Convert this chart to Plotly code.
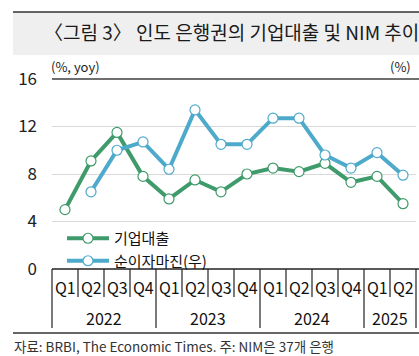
import plotly.graph_objects as go

# ---- data ----
years = ["2022", "2023", "2024", "2025"]
quarters = ["Q1", "Q2", "Q3", "Q4", "Q1", "Q2", "Q3", "Q4", "Q1", "Q2", "Q3", "Q4", "Q1", "Q2"]
year_quarter_counts = [4, 4, 4, 2]
corp_loans = [5.0, 9.1, 11.5, 7.8, 5.9, 7.5, 6.5, 8.0, 8.5, 8.2, 8.9, 7.3, 7.8, 5.5]
nim = [None, 6.5, 10.0, 10.7, 8.4, 13.4, 10.5, 10.5, 12.7, 12.7, 9.6, 8.5, 9.8, 7.9]
y_ticks = [0, 4, 8, 12, 16]

GREEN = "#3f9b6b"
BLUE = "#4eaacb"
FONT = "Noto Sans CJK KR"

W, H = 419, 356
PLOT_L, PLOT_R, PLOT_T, PLOT_B = 52, 416, 79, 269  # pixels
ML, MR, MT, MB = PLOT_L, W - PLOT_R, PLOT_T, H - PLOT_B
PW = PLOT_R - PLOT_L
PH = PLOT_B - PLOT_T


def fx(px):
    return (px - PLOT_L) / PW


def fy(py):
    return (PLOT_B - py) / PH


xs = list(range(len(quarters)))
n = len(quarters)

fig = go.Figure()
fig.add_trace(go.Scatter(
    x=xs, y=corp_loans, name="기업대출", mode="lines+markers",
    line=dict(color=GREEN, width=4),
    marker=dict(size=10, color="white", line=dict(color=GREEN, width=1.2)),
))
fig.add_trace(go.Scatter(
    x=xs, y=nim, name="순이자마진(우)", mode="lines+markers", yaxis="y2",
    line=dict(color=BLUE, width=4),
    marker=dict(size=10, color="white", line=dict(color=BLUE, width=1.2)),
))

shapes = []
# title bar
shapes.append(dict(type="rect", xref="paper", yref="paper", x0=fx(13), x1=fx(430),
                   y0=fy(55), y1=fy(12.5), fillcolor="#efefef", line=dict(width=0), layer="below"))
shapes.append(dict(type="line", xref="paper", yref="paper", x0=fx(13), x1=fx(430),
                   y0=fy(12), y1=fy(12), line=dict(color="#333333", width=1.5)))
# top (16) line darker
shapes.append(dict(type="line", xref="paper", yref="paper", x0=0, x1=fx(430),
                   y0=1, y1=1, line=dict(color="#6f6f6f", width=2)))
# zero / category table top
shapes.append(dict(type="line", xref="paper", yref="paper", x0=0, x1=fx(430),
                   y0=0, y1=0, line=dict(color="#222222", width=1.5)))
# quarter separators
for i in range(n + 1):
    shapes.append(dict(type="line", xref="paper", yref="paper", x0=i / n, x1=i / n,
                       y0=0, y1=fy(297), line=dict(color="#222222", width=1.2)))
# year separators
acc = 0
bounds = [0]
for c in year_quarter_counts:
    acc += c
    bounds.append(acc)
for b in bounds:
    shapes.append(dict(type="line", xref="paper", yref="paper", x0=b / n, x1=b / n,
                       y0=fy(297), y1=fy(328), line=dict(color="#222222", width=1.2)))
# bottom rule
shapes.append(dict(type="line", xref="paper", yref="paper", x0=fx(13), x1=fx(430),
                   y0=fy(333), y1=fy(333), line=dict(color="#333333", width=1.5)))

annotations = []
annotations.append(dict(text="〈그림 3〉 인도 은행권의 기업대출 및 NIM 추이", xref="paper", yref="paper",
                        x=fx(42), y=fy(31), xanchor="left", yanchor="middle", showarrow=False,
                        font=dict(family=FONT, size=19, color="#1a1a1a")))
annotations.append(dict(text="(%, yoy)", xref="paper", yref="paper", x=fx(49), y=fy(66),
                        xanchor="left", yanchor="middle", showarrow=False,
                        font=dict(family=FONT, size=13, color="#222222")))
annotations.append(dict(text="(%)", xref="paper", yref="paper", x=fx(413), y=fy(66),
                        xanchor="right", yanchor="middle", showarrow=False,
                        font=dict(family=FONT, size=13, color="#222222")))
for i, q in enumerate(quarters):
    annotations.append(dict(text=q, xref="paper", yref="paper", x=(i + 0.5) / n, y=fy(287),
                            xanchor="center", yanchor="middle", showarrow=False,
                            font=dict(family=FONT, size=16, color="#111111")))
for k, yr in enumerate(years):
    annotations.append(dict(text=yr, xref="paper", yref="paper",
                            x=(bounds[k] + bounds[k + 1]) / 2 / n, y=fy(318),
                            xanchor="center", yanchor="middle", showarrow=False,
                            font=dict(family=FONT, size=16, color="#111111")))
annotations.append(dict(text="자료: BRBI, The Economic Times. 주: NIM은 37개 은행", xref="paper", yref="paper",
                        x=fx(12), y=fy(346), xanchor="left", yanchor="middle", showarrow=False,
                        font=dict(family="Liberation Sans Narrow, " + FONT, size=13.5, color="#333333")))

fig.update_layout(
    width=W, height=H,
    margin=dict(l=ML, r=MR, t=MT, b=MB, pad=0),
    paper_bgcolor="white", plot_bgcolor="white",
    showlegend=True,
    legend=dict(x=fx(62), y=fy(222), xanchor="left", yanchor="top",
                bgcolor="rgba(0,0,0,0)", font=dict(family=FONT, size=15, color="#111111"),
                tracegroupgap=0, itemwidth=42),
    xaxis=dict(range=[-0.5, n - 0.5], showgrid=False, showticklabels=False, zeroline=False,
               showline=False, ticks=""),
    yaxis=dict(range=[0, 16], tickvals=y_ticks, showgrid=True, gridcolor="#d9d9d9", gridwidth=1,
               zeroline=False, showline=False, ticks="", ticklabelstandoff=14,
               tickfont=dict(family=FONT, size=17, color="#222222")),
    yaxis2=dict(range=[0, 16], overlaying="y", side="right", showgrid=False, showticklabels=False,
                zeroline=False, showline=False, ticks=""),
    shapes=shapes, annotations=annotations,
    font=dict(family=FONT),
)

fig.write_html("out.html", config={"displayModeBar": False},
               post_script="document.body.style.margin='0';document.body.style.overflow='hidden';")
